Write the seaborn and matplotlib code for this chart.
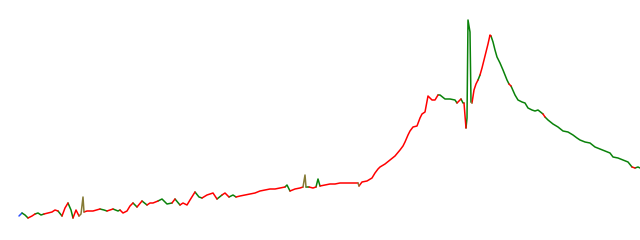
import matplotlib
matplotlib.use("Agg")
import matplotlib.pyplot as plt
import pandas as pd
import seaborn as sns

# time positions, values (up = larger), and regime label of the segment starting at each point
time = [19, 22, 25, 28, 32, 35, 38, 41, 44, 48, 52, 55, 58, 62, 65, 68, 71, 73, 76, 79, 81, 83, 84,
        87, 93, 100, 104, 107, 113, 118, 120, 123, 127, 130, 133, 137, 142, 147, 150, 153, 158, 162,
        167, 172, 175, 180, 183, 187, 190, 195, 199, 202, 207, 213, 217, 222, 225, 229, 233, 236, 240,
        245, 250, 255, 260, 265, 270, 275, 280, 285, 287, 290, 295, 300, 303, 305, 306, 309, 313, 316,
        318, 320, 325, 330, 335, 340, 345, 350, 355, 358, 359, 362, 367, 372, 375, 378, 380, 385, 390,
        395, 400, 403, 405, 408, 410, 413, 417, 420, 422, 425, 428, 430, 432, 435, 438, 440, 445, 450,
        455, 457, 459, 461, 463, 464, 466, 467, 468, 470, 471, 472, 474, 476, 478, 480, 482, 484, 486,
        488, 490, 491,
        493, 495, 497, 500, 503, 507, 509, 511, 515, 518, 522, 525, 528, 532, 535, 538, 543, 545, 548,
        553, 558, 563, 568, 573, 577, 580, 585, 590, 595, 600, 605, 610, 613, 618, 623, 628, 632, 635,
        638, 640]
pix = [216, 213, 215, 218, 216, 214, 213, 215, 214, 213, 212, 210, 211, 216, 208, 203, 210, 218, 210,
       216, 214, 197, 212, 211, 211, 209, 210, 211, 209, 211, 210, 213, 211, 206, 203, 207, 201, 205,
       203, 203, 201, 199, 204, 203, 199, 205, 203, 205, 200, 192, 197, 198, 195, 193, 199, 195, 193,
       197, 195, 197, 196, 195, 194, 193, 191, 190, 189, 189, 188, 187, 185, 191, 189, 188, 187, 175,
       187, 187, 188, 187, 179, 186, 185, 184, 184, 183, 183, 183, 183, 183, 186, 182, 181, 178, 173,
       169, 167, 164, 160, 156, 150, 146, 142, 135, 131, 127, 126, 118, 114, 112, 96, 98, 100, 100, 95,
       95, 99, 99, 100, 103, 101, 99, 103, 103, 128, 118, 20, 32, 102, 103, 90, 84, 80, 75, 68, 60, 52,
       44, 35, 36,
       42, 50, 57, 63, 70, 80, 84, 86, 95, 100, 102, 103, 108, 110, 111, 110, 114, 117, 120,
       124, 127, 131, 132, 135, 138, 140, 142, 143, 147, 149, 151, 153, 157, 158, 160, 162, 167, 168,
       167, 168]
value = [240 - p for p in pix]
regime = list("bggrrgggrr" "rrgrrggrro" "oorrrggrgg" "rrrrgrgrrr" "gggrgrrrrg"
              "grrrgrrggr" "rrrrrrrrrg" "grrroogrrg" "grrrrrrrro" "rrrrrrrrrr"
              "rrrrrrrrrr" "rrrrgggggr" "rggrggggor" "rrgrrrrrrg"
              + "g" * 6 + "r" + "g" * 9 + "r" + "g" * 19 + "r" + "g" * 3)

palette = {"r": "#ff0000", "g": "#0a820a", "b": "#2a4dff", "o": "#857a35"}

n = min(len(time), len(value), len(regime))
rows = []
unit = 0
i = 0
while i < n - 1:
    j = i
    while j + 1 < n - 1 and regime[j + 1] == regime[i]:
        j += 1
    for k in range(i, j + 2):
        rows.append({"t": time[k], "v": value[k], "regime": regime[i], "unit": unit})
    unit += 1
    i = j + 1
df = pd.DataFrame(rows)

sns.set_style("white")
fig = plt.figure(figsize=(6.4, 2.4), dpi=100)
ax = fig.add_axes([0, 0, 1, 1])
sns.lineplot(data=df, x="t", y="v", hue="regime", units="unit", estimator=None, sort=False,
             palette=palette, linewidth=1.1, legend=False, ax=ax)
ax.set_xlim(0, 640)
ax.set_ylim(0, 240)
ax.set_axis_off()
fig.savefig("out.png", dpi=100)
